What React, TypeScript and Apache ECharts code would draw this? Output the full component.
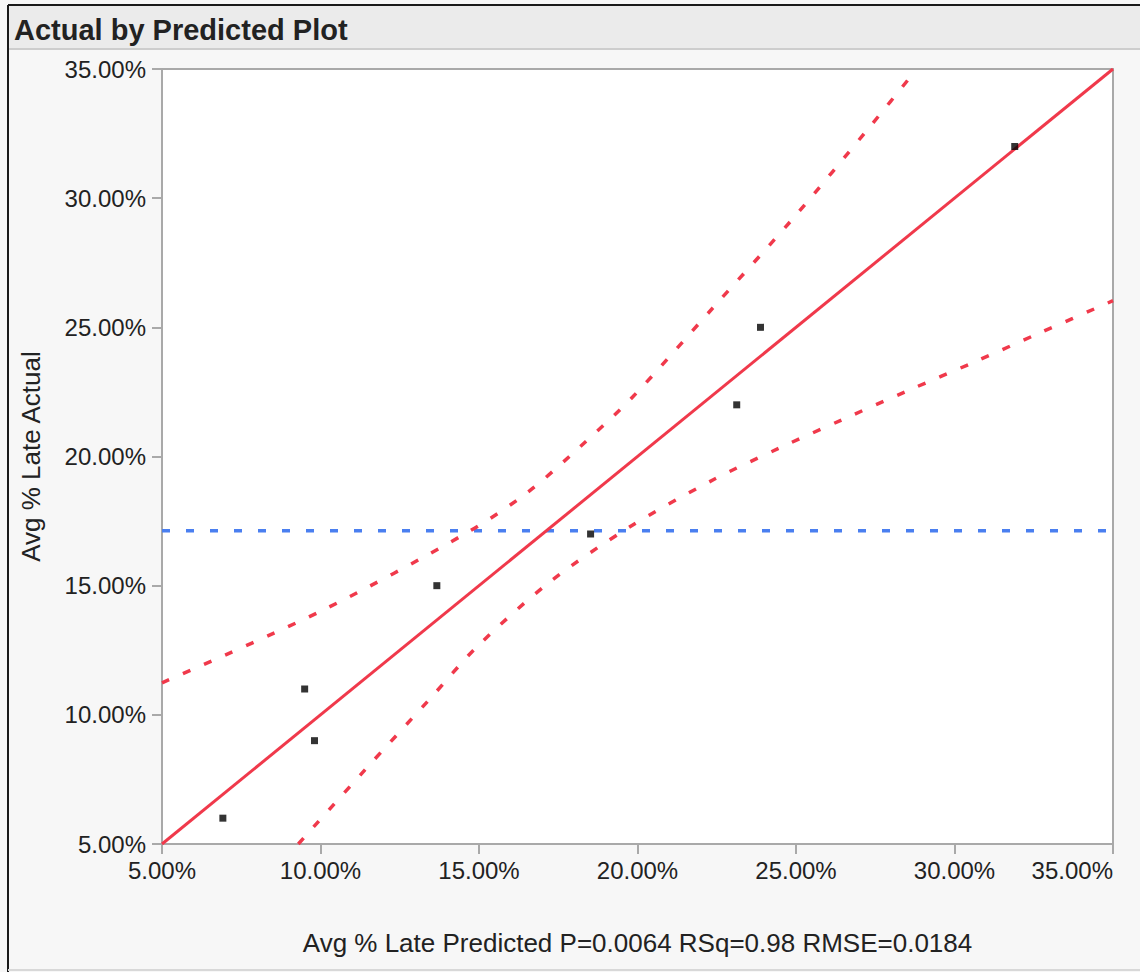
import React, { useEffect, useRef } from "react";
import * as echarts from "echarts";

// Data (percent units)
const predicted = [6.92, 9.5, 9.81, 13.67, 18.52, 23.13, 23.88, 31.9];
const actual = [6, 11, 9, 15, 17, 22, 25, 32];
const meanActual = 17.125;
const fitLine = [
  [5, 5],
  [35, 35],
];
const upperCI = [
  [5, 11.24],
  [9.99, 14.0],
  [14.62, 17.05],
  [16.52, 18.6],
  [18.19, 20.38],
  [19.86, 22.32],
  [22.39, 25.77],
  [24.91, 29.22],
  [27.34, 32.78],
  [28.81, 35],
];
const lowerCI = [
  [9.3, 5],
  [11.41, 7.88],
  [13.46, 10.63],
  [14.94, 12.64],
  [17.24, 15.15],
  [19.76, 17.28],
  [22.39, 19.1],
  [24.5, 20.34],
  [26.45, 21.42],
  [28.53, 22.55],
  [30.65, 23.67],
  [32.7, 24.79],
  [35, 26.03],
];
const axisMin = 5;
const axisMax = 35;
const axisStep = 5;
const title = "Actual by Predicted Plot";
const xName = "Avg % Late Predicted P=0.0064 RSq=0.98 RMSE=0.0184";
const yName = "Avg % Late Actual";

const FONT = "'Liberation Sans', Arial, sans-serif";
const RED = "#f0394b";
const BLUE = "#4a7ff0";
const AXIS = "#a9a9a9";

export default function App() {
  const ref = useRef<HTMLDivElement>(null);
  useEffect(() => {
    if (!ref.current) return;
    const chart = echarts.init(ref.current, undefined, { renderer: "svg" });
    const fmt = (v: number) => v.toFixed(2) + "%";
    const axisCommon = {
      type: "value" as const,
      min: axisMin,
      max: axisMax,
      interval: axisStep,
      splitLine: { show: false },
      axisLine: { show: true, lineStyle: { color: AXIS, width: 2 } },
      axisTick: { show: true, length: 10, lineStyle: { color: AXIS, width: 2 } },
      axisLabel: {
        formatter: fmt,
        color: "#222",
        fontSize: 24,
        fontFamily: FONT,
        margin: 14,
      },
      nameLocation: "middle" as const,
      nameTextStyle: { color: "#222", fontSize: 26, fontFamily: FONT },
    };
    chart.setOption({
      animation: false,
      backgroundColor: "transparent",
      graphic: [
        {
          type: "rect",
          shape: { x: 8, y: 5, width: 1132, height: 43 },
          style: { fill: "#ebebeb" },
          silent: true,
        },
        {
          type: "line",
          shape: { x1: 8, y1: 49, x2: 1140, y2: 49 },
          style: { stroke: "#cdcdcd", lineWidth: 2 },
          silent: true,
        },
        {
          type: "line",
          shape: { x1: 8, y1: 5, x2: 1140, y2: 5 },
          style: { stroke: "#1a1a1a", lineWidth: 2 },
          silent: true,
        },
        {
          type: "line",
          shape: { x1: 8, y1: 5, x2: 8, y2: 972 },
          style: { stroke: "#1a1a1a", lineWidth: 2 },
          silent: true,
        },
        {
          type: "line",
          shape: { x1: 8, y1: 970, x2: 1140, y2: 970 },
          style: { stroke: "#d8d8d8", lineWidth: 2 },
          silent: true,
        },
        {
          type: "text",
          x: 14,
          y: 30,
          style: {
            text: title,
            fill: "#222",
            font: `bold 29px ${FONT}`,
            textVerticalAlign: "middle",
          },
          silent: true,
        },
      ],
      grid: {
        left: 162,
        top: 69,
        right: 27,
        bottom: 128,
        outerBoundsMode: "none",
        containLabel: false,
        show: true,
        backgroundColor: "#ffffff",
        borderColor: AXIS,
        borderWidth: 2,
      },
      xAxis: {
        ...axisCommon,
        name: xName,
        nameGap: 86,
        axisLabel: { ...axisCommon.axisLabel, alignMaxLabel: "right" },
      },
      yAxis: {
        ...axisCommon,
        name: yName,
        nameGap: 118,
        axisLabel: { ...axisCommon.axisLabel, margin: 16 },
      },
      series: [
        {
          type: "line",
          data: [
            [axisMin, meanActual],
            [axisMax, meanActual],
          ],
          symbol: "none",
          lineStyle: { color: BLUE, width: 3.5, type: [8, 16] },
          z: 2,
        },
        {
          type: "line",
          data: upperCI,
          smooth: 0.3,
          symbol: "none",
          lineStyle: { color: RED, width: 3.5, type: [8, 15] },
          z: 3,
        },
        {
          type: "line",
          data: lowerCI,
          smooth: 0.3,
          symbol: "none",
          lineStyle: { color: RED, width: 3.5, type: [8, 15] },
          z: 3,
        },
        {
          type: "line",
          data: fitLine,
          symbol: "none",
          lineStyle: { color: RED, width: 3 },
          z: 4,
        },
        {
          type: "scatter",
          data: predicted.map((p, i) => [p, actual[i]]),
          symbol: "rect",
          symbolSize: 7,
          itemStyle: { color: "#000" },
          z: 5,
        },
      ],
    });
    return () => chart.dispose();
  }, []);
  return (
    <div
      ref={ref}
      style={{
        position: "fixed",
        left: 0,
        top: 0,
        width: 1140,
        height: 972,
        background: "#f7f7f7",
      }}
    />
  );
}
